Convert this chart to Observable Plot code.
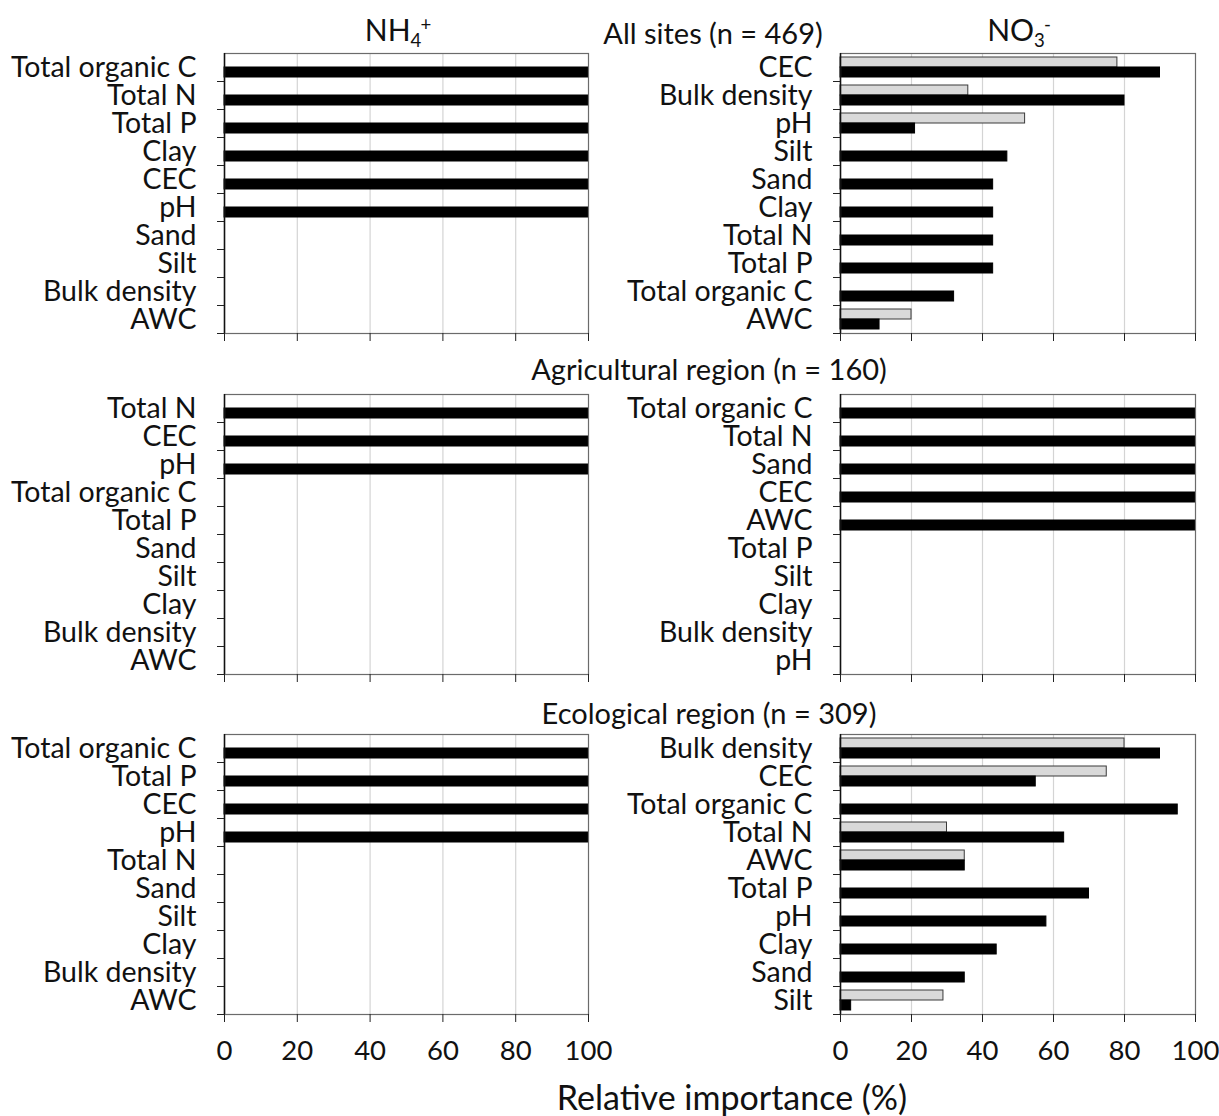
<!DOCTYPE html>
<html>
<head>
<meta charset="utf-8">
<script src="https://cdn.jsdelivr.net/npm/d3@7"></script>
<script src="https://cdn.jsdelivr.net/npm/@observablehq/plot@0.6"></script>
<style>
  html, body { margin: 0; padding: 0; background: #fff; }
  #wrap { position: relative; width: 1219px; height: 1116px; font-family: Lato, sans-serif; color: #111; overflow: hidden; }
  #wrap svg { position: absolute; overflow: visible; }
  .t { position: absolute; transform: translate(-50%, -50%); white-space: nowrap; font-size: 29px; line-height: 1; }
  .t sub, .t sup { font-size: 0.62em; }
  .t sub { vertical-align: -0.3em; }
  .t sup { vertical-align: 0.55em; margin-left: -0.05em; }
</style>
</head>
<body>
<div id="wrap"></div>
<script>
// ---- data ----
const panelTitles = ["All sites (n = 469)", "Agricultural region (n = 160)", "Ecological region (n = 309)"];
const xTicks = [0, 20, 40, 60, 80, 100];
const xLabel = "Relative importance (%)";

// All sites, NH4+
const allNH4Cats = ["Total organic C", "Total N", "Total P", "Clay", "CEC", "pH", "Sand", "Silt", "Bulk density", "AWC"];
const allNH4Black = [100, 100, 100, 100, 100, 100, 0, 0, 0, 0];
const allNH4Grey = [null, null, null, null, null, null, null, null, null, null];

// All sites, NO3-
const allNO3Cats = ["CEC", "Bulk density", "pH", "Silt", "Sand", "Clay", "Total N", "Total P", "Total organic C", "AWC"];
const allNO3Black = [90, 80, 21, 47, 43, 43, 43, 43, 32, 11];
const allNO3Grey = [78, 36, 52, null, null, null, null, null, null, 20];

// Agricultural region, NH4+
const agrNH4Cats = ["Total N", "CEC", "pH", "Total organic C", "Total P", "Sand", "Silt", "Clay", "Bulk density", "AWC"];
const agrNH4Black = [100, 100, 100, 0, 0, 0, 0, 0, 0, 0];
const agrNH4Grey = [null, null, null, null, null, null, null, null, null, null];

// Agricultural region, NO3-
const agrNO3Cats = ["Total organic C", "Total N", "Sand", "CEC", "AWC", "Total P", "Silt", "Clay", "Bulk density", "pH"];
const agrNO3Black = [100, 100, 100, 100, 100, 0, 0, 0, 0, 0];
const agrNO3Grey = [null, null, null, null, null, null, null, null, null, null];

// Ecological region, NH4+
const ecoNH4Cats = ["Total organic C", "Total P", "CEC", "pH", "Total N", "Sand", "Silt", "Clay", "Bulk density", "AWC"];
const ecoNH4Black = [100, 100, 100, 100, 0, 0, 0, 0, 0, 0];
const ecoNH4Grey = [null, null, null, null, null, null, null, null, null, null];

// Ecological region, NO3-
const ecoNO3Cats = ["Bulk density", "CEC", "Total organic C", "Total N", "AWC", "Total P", "pH", "Clay", "Sand", "Silt"];
const ecoNO3Black = [90, 55, 95, 63, 35, 70, 58, 44, 35, 3];
const ecoNO3Grey = [80, 75, null, 30, 35, null, null, null, null, 29];

// ---- layout ----
const FONT = "Lato, sans-serif";
const FS = 28.5;
const TICKFS = 27.5;
const rowTops = [53, 393.5, 734];
const bandH = 28;
const plotH = bandH * 10;
const wrap = document.getElementById("wrap");

function panel(cats, black, grey, {left, rowTop, plotW, marginLeft, marginRight, bottom}) {
  const rows = cats.map((c, i) => ({cat: c, black: black[i], grey: grey[i]}));
  const marginTop = 10;
  const marginBottom = bottom ? 75 : 15;
  const svg = Plot.plot({
    width: marginLeft + plotW + marginRight,
    height: marginTop + plotH + marginBottom,
    marginLeft, marginRight, marginTop, marginBottom,
    style: {fontFamily: FONT, fontSize: FS + "px", color: "#111", background: "transparent", overflow: "visible"},
    x: {domain: [0, 100]},
    y: {domain: cats, paddingInner: 0, paddingOuter: 0},
    marks: [
      Plot.gridX([20, 40, 60, 80], {stroke: "#d4d4d4", strokeOpacity: 1, strokeWidth: 1.2}),
      Plot.barX(rows.filter(d => d.grey != null && d.grey > 0), {x: "grey", y: "cat", fill: "#d9d9d9", stroke: "#3a3a3a", strokeWidth: 1, insetTop: 4, insetBottom: 14}),
      Plot.barX(rows.filter(d => d.black > 0), {x: "black", y: "cat", fill: "#000", stroke: "#000", strokeWidth: 1, insetTop: 14, insetBottom: 4}),
      Plot.frame({stroke: "#6b6b6b", strokeWidth: 1.2}),
      Plot.ruleX([0], {stroke: "#111", strokeWidth: 1.5}),
      Plot.ruleY([0], {stroke: "#111", strokeWidth: 1.5}),
      Plot.axisY({tickSize: 0, tickPadding: 28, label: null, fontSize: FS}),
      Plot.axisY({tickSize: 7, dy: bandH / 2, tickFormat: () => "", label: null, stroke: "#222"}),
      Plot.axisX({ticks: xTicks, tickSize: 8, tickPadding: 18, label: null, stroke: "#222",
                  tickFormat: bottom ? d => String(d) : () => "", fontSize: TICKFS})
    ]
  });
  svg.style.left = left + "px";
  svg.style.top = (rowTop - marginTop) + "px";
  wrap.appendChild(svg);
}

const leftOpt = {left: 0, plotW: 364, marginLeft: 224, marginRight: 8};
const rightOpt = {left: 615, plotW: 355, marginLeft: 225, marginRight: 10};

panel(allNH4Cats, allNH4Black, allNH4Grey, {...leftOpt, rowTop: rowTops[0], bottom: false});
panel(allNO3Cats, allNO3Black, allNO3Grey, {...rightOpt, rowTop: rowTops[0], bottom: false});
panel(agrNH4Cats, agrNH4Black, agrNH4Grey, {...leftOpt, rowTop: rowTops[1], bottom: false});
panel(agrNO3Cats, agrNO3Black, agrNO3Grey, {...rightOpt, rowTop: rowTops[1], bottom: false});
panel(ecoNH4Cats, ecoNH4Black, ecoNH4Grey, {...leftOpt, rowTop: rowTops[2], bottom: true});
panel(ecoNO3Cats, ecoNO3Black, ecoNO3Grey, {...rightOpt, rowTop: rowTops[2], bottom: true});

function label(html, x, y, size) {
  const d = document.createElement("div");
  d.className = "t";
  d.innerHTML = html;
  d.style.left = x + "px";
  d.style.top = y + "px";
  if (size) d.style.fontSize = size + "px";
  wrap.appendChild(d);
}
label("NH<sub>4</sub><sup>+</sup>", 398, 32, 30);
label("NO<sub>3</sub><sup>-</sup>", 1019, 32, 30);
label(panelTitles[0], 713, 32);
label(panelTitles[1], 709, 368);
label(panelTitles[2], 709, 712);
label(xLabel, 732, 1097, 34);
</script>
</body>
</html>
